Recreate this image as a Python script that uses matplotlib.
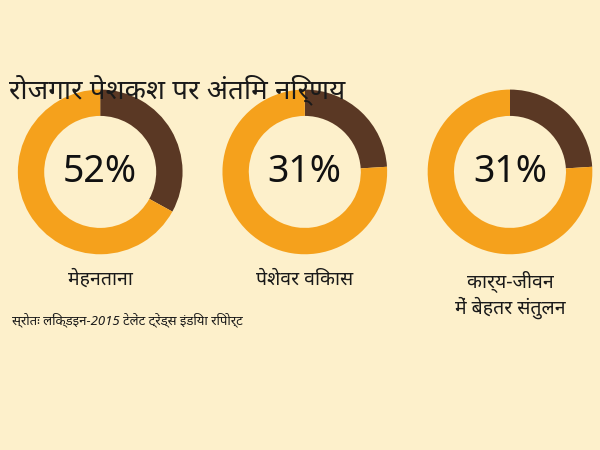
import matplotlib
matplotlib.use("Agg")
import matplotlib.pyplot as plt

plt.rcParams['font.family'] = ['Noto Sans', 'Lato', 'DejaVu Sans']

title = "रोजगार पेशकश पर अंतिम निर्णय"
labels = ["मेहनताना", "पेशेवर विकास", "कार्य-जीवन\nमें बेहतर संतुलन"]
pct_text = ["52%", "31%", "31%"]
brown_share = [33, 24, 24]   # brown arc share as drawn
source = "स्रोतः लिंक्डइन-2015 टेलेंट ट्रेंड्स इंडिया रिपोर्ट"

bg = "#FDF0CB"
orange = "#F5A11C"
brown = "#5A3824"

fig = plt.figure(figsize=(6, 4.5), dpi=100, facecolor=bg)
fig.text(0.015, 0.80, title, fontsize=20, fontweight='bold', color='#1a1a1a', va='center')

centers = [0.167, 0.508, 0.85]
for cx, lab, pt, b in zip(centers, labels, pct_text, brown_share):
    ax = fig.add_axes([cx - 0.14, 0.618 - 0.1867, 0.28, 0.3733])
    ax.set_facecolor(bg)
    ax.pie([b, 100 - b], colors=[brown, orange], startangle=90, counterclock=False,
           radius=1.0, wedgeprops=dict(width=0.32, linewidth=0))
    ax.set_xlim(-1.02, 1.02); ax.set_ylim(-1.02, 1.02)
    ax.set_aspect('equal')
    ax.text(0, 0, pt, ha='center', va='center', fontsize=27, fontweight='bold', color='#111')
    fig.text(cx, 0.40, lab, ha='center', va='top', fontsize=14, color='#1a1a1a', linespacing=1.3)

fig.text(0.02, 0.29, source, fontsize=9.5, style='italic', color='#1a1a1a', va='center')
fig.savefig("out.png", dpi=100, facecolor=bg)
